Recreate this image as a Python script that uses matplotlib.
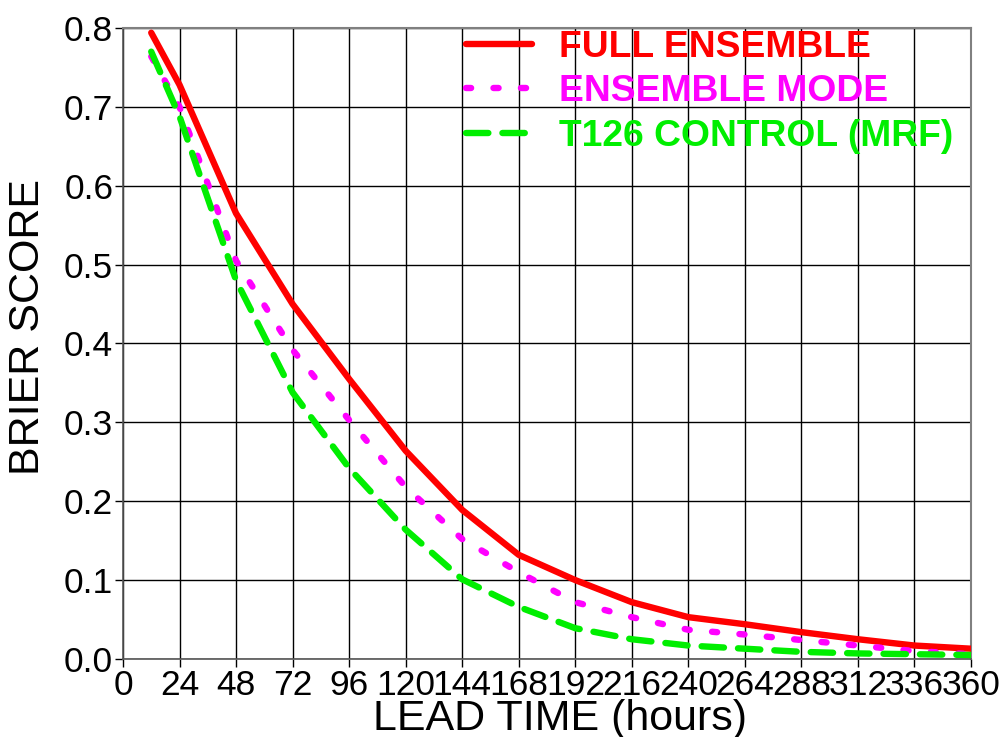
import matplotlib
matplotlib.use("Agg")
import matplotlib.pyplot as plt

plt.rcParams['font.family'] = ['Liberation Sans', 'DejaVu Sans']

# lead times (hours) and Brier scores for each forecast
lead = [12, 24, 48, 72, 96, 120, 144, 168, 192, 216, 240, 264, 288, 312, 336, 360]
full_ens = [0.794, 0.728, 0.565, 0.450, 0.355, 0.264, 0.189, 0.132, 0.100, 0.072,
            0.053, 0.044, 0.034, 0.025, 0.017, 0.013]
ens_mode = [0.764, 0.700, 0.505, 0.392, 0.303, 0.218, 0.152, 0.110, 0.072, 0.053,
            0.037, 0.031, 0.024, 0.017, 0.010, 0.006]
control = [0.770, 0.688, 0.480, 0.338, 0.242, 0.164, 0.101, 0.066, 0.039, 0.025,
           0.017, 0.013, 0.009, 0.007, 0.006, 0.005]
xticks = list(range(0, 361, 24))
yticks = [0.0, 0.1, 0.2, 0.3, 0.4, 0.5, 0.6, 0.7, 0.8]

fig = plt.figure(figsize=(10.03, 7.37), dpi=100)
ax = fig.add_axes([0.1226, 0.1059, 0.8455, 0.8561])

ax.plot(lead, full_ens, color='#ff0000', lw=4.6, solid_capstyle='round',
        label='FULL ENSEMBLE', zorder=3)
ax.plot(lead, ens_mode, color='#ff00ff', lw=4.6, dashes=(0.8, 3.5),
        dash_capstyle='round', label='ENSEMBLE MODE', zorder=4)
ax.plot(lead, control, color='#00ee00', lw=4.6, dashes=(3.5, 2.2),
        dash_capstyle='round', label='T126 CONTROL (MRF)', zorder=5)

ax.set_xlim(0, 360)
ax.set_ylim(0, 0.8)
ax.set_xticks(xticks)
ax.set_yticks(yticks)
ax.set_yticklabels([f"{v:.1f}" for v in yticks])
ax.grid(True, color='black', lw=1.0)
ax.set_axisbelow(True)
ax.tick_params(labelsize=25.5, length=6, width=1, pad=1)

for side in ['top', 'right']:
    ax.spines[side].set_color('#808080')
    ax.spines[side].set_linewidth(1.5)
for side in ['left', 'bottom']:
    ax.spines[side].set_color('#555555')
    ax.spines[side].set_linewidth(1.2)

ax.set_xlabel('LEAD TIME (hours)', fontsize=31)
ax.set_ylabel('BRIER SCORE', fontsize=31)
ax.xaxis.set_label_coords(0.515, -0.063)
ax.yaxis.set_label_coords(-0.088, 0.526)

leg = ax.legend(loc='upper left', bbox_to_anchor=(0.3655, 1.05), frameon=False,
                prop={'size': 26.8, 'weight': 'bold'}, labelcolor='linecolor',
                handlelength=1.75, handletextpad=0.75, labelspacing=0.25)

fig.savefig('out.png', dpi=100, facecolor='white')
